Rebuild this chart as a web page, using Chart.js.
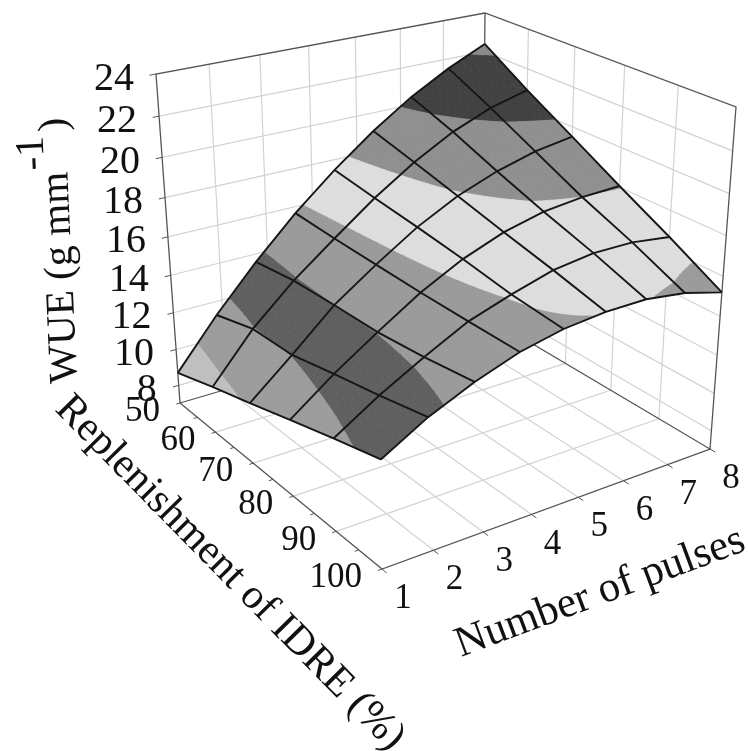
<!DOCTYPE html>
<html lang="en">
<head>
  <meta charset="UTF-8">
  <title>WUE surface</title>
  <script src="https://cdn.jsdelivr.net/npm/chart.js"></script>
  <style>
    html, body { margin: 0; padding: 0; background: #fff; }
    canvas { display: block; }
  </style>
</head>
<body>
  <canvas id="chart" width="748" height="751"></canvas>

  <script>
    // Axis ticks
    const pulseTicks = [1, 2, 3, 4, 5, 6, 7, 8];
    const idreTicks = [50, 60, 70, 80, 90, 100];
    const idreMinorTicks = [55, 65, 75, 85, 95];
    const wueTicks = [8, 10, 12, 14, 16, 18, 20, 22, 24];

    // Mesh positions of the surface
    const meshPulses = [1, 1.875, 2.75, 3.625, 4.5, 5.375, 6.25, 7.125, 8];
    const meshIdre = [50, 60, 70, 80, 90, 100];

    // WUE, one row per replenishment level
    const wue50 = [8.7, 11.27, 13.58, 15.66, 17.46, 19.05, 20.41, 21.5, 22.4];
    const wue60 = [9.48, 11.95, 13.9, 15.55, 17.13, 18.49, 19.6, 20.4, 20.9];
    const wue70 = [10.2, 12.05, 14.0, 15.48, 16.84, 17.9, 18.66, 19.2, 19.5];
    const wue80 = [10.96, 12.6, 14.05, 15.42, 16.5, 17.29, 17.78, 18.0, 18.07];
    const wue90 = [11.7, 13.1, 14.3, 15.4, 16.1, 16.7, 16.97, 16.95, 16.68];
    const wue100 = [12.4, 13.68, 14.65, 15.4, 15.85, 16.05, 16.05, 15.76, 15.2];
    const wueRows = [wue50, wue60, wue70, wue80, wue90, wue100];

    // Contour bands of the surface
    const bandEdges = [0, 10, 12, 14, 16, 18, 20, 22, 30];
    const bandColors = ['#bfbfbf', '#9c9c9c', '#5f5f5f', '#9a9a9a', '#dddddd', '#8f8f8f', '#414141', '#8a8a8a'];

    // Camera: where the box corners land on the canvas
    const pulseRange = [1, 8];
    const idreRange = [50, 100];
    const wueRange = [7, 24];
    const floorQuad = [[180, 403], [482, 314], [710, 449], [382, 569]];
    const roofQuad = [[156, 74], [485, 13], [736, 107], [378, 200]];
    const depthK = 1.103;

    function squareToQuad(q) {
      const [[x0, y0], [x1, y1], [x2, y2], [x3, y3]] = q;
      const dx1 = x1 - x2, dx2 = x3 - x2, sx = x0 - x1 + x2 - x3;
      const dy1 = y1 - y2, dy2 = y3 - y2, sy = y0 - y1 + y2 - y3;
      const den = dx1 * dy2 - dx2 * dy1;
      const g = (sx * dy2 - dx2 * sy) / den;
      const h = (dx1 * sy - sx * dy1) / den;
      return {
        a: x1 - x0 + g * x1, b: x3 - x0 + h * x3, c: x0,
        d: y1 - y0 + g * y1, e: y3 - y0 + h * y3, f: y0,
        g, h
      };
    }

    const floorH = squareToQuad(floorQuad);
    const roofH = squareToQuad(roofQuad);

    function applyH(m, u, v) {
      const w = 1 + m.g * u + m.h * v;
      return [(m.a * u + m.b * v + m.c) / w, (m.d * u + m.e * v + m.f) / w];
    }

    function project(pulses, idre, wue) {
      const u = (pulses - pulseRange[0]) / (pulseRange[1] - pulseRange[0]);
      const v = (idre - idreRange[0]) / (idreRange[1] - idreRange[0]);
      const t = (wue - wueRange[0]) / (wueRange[1] - wueRange[0]);
      const s = t / (t + depthK * (1 - t));
      const f = applyH(floorH, u, v);
      const r = applyH(roofH, u, v);
      return { x: f[0] + s * (r[0] - f[0]), y: f[1] + s * (r[1] - f[1]) };
    }

    function lineSet(points, color, width, order) {
      return {
        data: points,
        showLine: true,
        fill: false,
        borderColor: color,
        borderWidth: width,
        pointRadius: 0,
        tension: 0,
        spanGaps: false,
        clip: false,
        order: order
      };
    }

    const GAP = { x: NaN, y: NaN };
    const [pLo, pHi] = pulseRange;
    const [iLo, iHi] = idreRange;
    const [zLo, zHi] = wueRange;

    // Light grid on the floor and on the two back walls
    const gridPts = [];
    pulseTicks.slice(1, -1).forEach(p => {
      gridPts.push(project(p, iLo, zLo), project(p, iHi, zLo), GAP);
      gridPts.push(project(p, iLo, zLo), project(p, iLo, zHi), GAP);
    });
    idreTicks.slice(1, -1).forEach(i => {
      gridPts.push(project(pLo, i, zLo), project(pHi, i, zLo), GAP);
      gridPts.push(project(pHi, i, zLo), project(pHi, i, zHi), GAP);
    });
    wueTicks.slice(0, -1).forEach(z => {
      gridPts.push(project(pLo, iLo, z), project(pHi, iLo, z), project(pHi, iHi, z), GAP);
    });

    // Box outline
    const boxPts = [
      project(pLo, iLo, zLo), project(pLo, iLo, zHi), project(pHi, iLo, zHi), project(pHi, iHi, zHi), project(pHi, iHi, zLo), GAP,
      project(pHi, iLo, zLo), project(pHi, iLo, zHi), GAP,
      project(pLo, iLo, zLo), project(pHi, iLo, zLo), project(pHi, iHi, zLo), project(pLo, iHi, zLo), project(pLo, iLo, zLo), GAP
    ];

    // Tick marks
    const tickPts = [];
    wueTicks.forEach(z => tickPts.push(project(pLo - 0.12, iLo, z), project(pLo, iLo, z), GAP));
    pulseTicks.forEach(p => tickPts.push(project(p, iHi, zLo), project(p, iHi + 1, zLo), GAP));
    idreTicks.concat(idreMinorTicks).forEach(i => tickPts.push(project(pLo - 0.08, i, zLo), project(pLo, i, zLo), GAP));

    // Contour bands: each mesh cell is cut into small triangles, clipped by WUE
    const SUB = 6;
    const bandPts = bandColors.map(() => []);

    function cellValue(c, r, a, b) {
      const z00 = wueRows[r][c], z10 = wueRows[r][c + 1];
      const z01 = wueRows[r + 1][c], z11 = wueRows[r + 1][c + 1];
      return {
        p: meshPulses[c] + a * (meshPulses[c + 1] - meshPulses[c]),
        i: meshIdre[r] + b * (meshIdre[r + 1] - meshIdre[r]),
        z: (z00 * (1 - a) + z10 * a) * (1 - b) + (z01 * (1 - a) + z11 * a) * b
      };
    }

    function clipZ(poly, limit, keepAbove) {
      const out = [];
      poly.forEach((cur, k) => {
        const next = poly[(k + 1) % poly.length];
        const curIn = keepAbove ? cur.z >= limit : cur.z <= limit;
        const nextIn = keepAbove ? next.z >= limit : next.z <= limit;
        if (curIn) out.push(cur);
        if (curIn !== nextIn) {
          const m = (limit - cur.z) / (next.z - cur.z);
          out.push({ p: cur.p + m * (next.p - cur.p), i: cur.i + m * (next.i - cur.i), z: limit });
        }
      });
      return out;
    }

    function addTriangle(tri) {
      bandColors.forEach((_, b) => {
        let poly = clipZ(tri, bandEdges[b], true);
        if (poly.length) poly = clipZ(poly, bandEdges[b + 1], false);
        if (poly.length < 3) return;
        const pts = poly.map(n => project(n.p, n.i, n.z));
        pts.push(pts[0], GAP);
        bandPts[b].push(...pts);
      });
    }

    for (let r = 0; r < meshIdre.length - 1; r++) {
      for (let c = 0; c < meshPulses.length - 1; c++) {
        for (let m = 0; m < SUB; m++) {
          for (let n = 0; n < SUB; n++) {
            const q00 = cellValue(c, r, m / SUB, n / SUB);
            const q10 = cellValue(c, r, (m + 1) / SUB, n / SUB);
            const q11 = cellValue(c, r, (m + 1) / SUB, (n + 1) / SUB);
            const q01 = cellValue(c, r, m / SUB, (n + 1) / SUB);
            addTriangle([q00, q10, q11]);
            addTriangle([q00, q11, q01]);
          }
        }
      }
    }

    // Black mesh lines
    const meshPts = [];
    meshIdre.forEach((idre, r) => {
      meshPulses.forEach((p, c) => meshPts.push(project(p, idre, wueRows[r][c])));
      meshPts.push(GAP);
    });
    meshPulses.forEach((p, c) => {
      meshIdre.forEach((idre, r) => meshPts.push(project(p, idre, wueRows[r][c])));
      meshPts.push(GAP);
    });

    const datasets = [
      lineSet(gridPts, '#d2d2d2', 1.2, 5),
      lineSet(boxPts, '#555555', 1.3, 4),
      lineSet(tickPts, '#555555', 1, 4)
    ];
    bandPts.forEach((pts, b) => {
      const set = lineSet(pts, bandColors[b], 0.8, 3);
      set.fill = 'shape';
      set.backgroundColor = bandColors[b];
      datasets.push(set);
    });
    datasets.push(lineSet(meshPts, '#161616', 1.9, 1));

    // Tick labels and axis titles sit on the projected positions
    const axisText = {
      id: 'axisText',
      afterDraw(chart) {
        const { ctx, scales } = chart;
        const px = pt => ({ x: scales.x.getPixelForValue(pt.x), y: scales.y.getPixelForValue(pt.y) });

        function put(text, pos, size, align, angle) {
          ctx.save();
          ctx.translate(pos.x, pos.y);
          ctx.rotate((angle || 0) * Math.PI / 180);
          ctx.font = size + 'px "Liberation Serif"';
          ctx.fillStyle = '#111';
          ctx.textAlign = align;
          ctx.textBaseline = angle ? 'alphabetic' : 'middle';
          ctx.fillText(text, 0, 0);
          ctx.restore();
        }

        wueTicks.forEach(z => {
          const p = px(project(pLo, iLo, z));
          put(String(z), { x: p.x - 22, y: p.y + 5 }, 40, 'right');
        });
        idreTicks.forEach(i => {
          const p = px(project(pLo, i, zLo));
          put(String(i), { x: p.x - 20, y: p.y + 9 }, 35, 'right');
        });
        pulseTicks.forEach(n => {
          const p = px(project(n, iHi, zLo));
          put(String(n), { x: p.x + 21, y: p.y + 30 }, 35, 'center');
        });

        put('WUE (g mm', px({ x: 77, y: 383 }), 41, 'left', -92.6);
        put('-1', px({ x: 44, y: 170 }), 41, 'left', -92.6);
        put(')', px({ x: 66, y: 131 }), 41, 'left', -92.6);
        put('Replenishment of IDRE (%)', px({ x: 54, y: 410 }), 42, 'left', 45.5);
        put('Number of pulses', px({ x: 461, y: 657 }), 43, 'left', -20.5);
      }
    };

    new Chart(document.getElementById('chart').getContext('2d'), {
      type: 'scatter',
      data: { datasets },
      options: {
        responsive: false,
        animation: false,
        events: [],
        layout: { padding: 0 },
        plugins: { legend: { display: false }, tooltip: { enabled: false } },
        scales: {
          x: { type: 'linear', display: false, min: 0, max: 748 },
          y: { type: 'linear', display: false, min: 0, max: 751, reverse: true }
        }
      },
      plugins: [axisText]
    });
  </script>
</body>
</html>
